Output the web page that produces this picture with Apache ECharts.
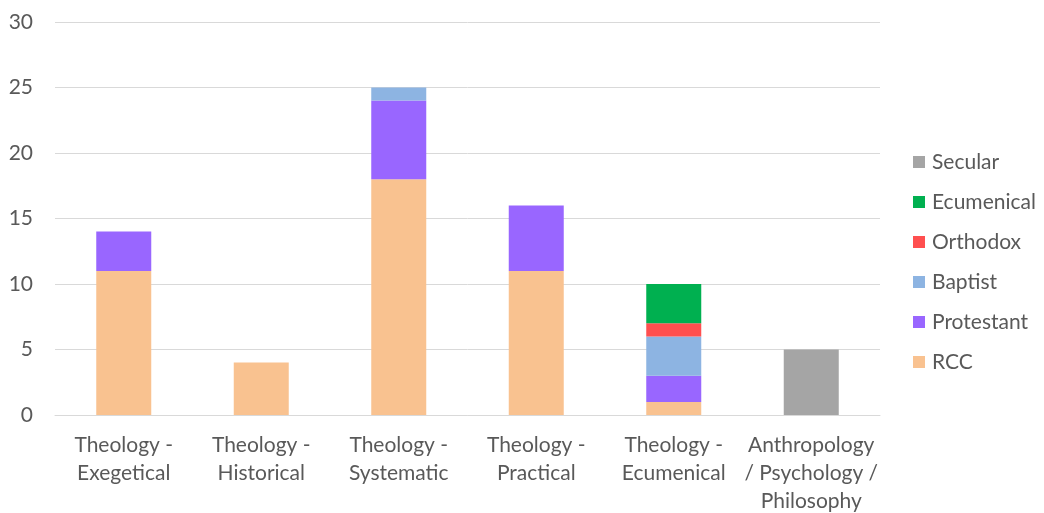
<!DOCTYPE html>
<html>
<head>
<meta charset="utf-8">
<script src="https://cdn.jsdelivr.net/npm/echarts@6/dist/echarts.min.js"></script>
<style>html,body{margin:0;padding:0;background:#fff}#c{width:1044px;height:513px}</style>
</head>
<body>
<div id="c"></div>
<script>
var categories = ["Theology -\nExegetical", "Theology -\nHistorical", "Theology -\nSystematic", "Theology -\nPractical", "Theology -\nEcumenical", "Anthropology\n/ Psychology /\nPhilosophy"];
var rcc = [11, 4, 18, 11, 1, 0];
var protestant = [3, 0, 6, 5, 2, 0];
var baptist = [0, 0, 1, 0, 3, 0];
var orthodox = [0, 0, 0, 0, 1, 0];
var ecumenical = [0, 0, 0, 0, 3, 0];
var secular = [0, 0, 0, 0, 0, 5];
var seriesNames = ["RCC", "Protestant", "Baptist", "Orthodox", "Ecumenical", "Secular"];
var seriesColors = ["#F9C290", "#9966FF", "#8DB4E2", "#FF4F4F", "#00B050", "#A5A5A5"];
var seriesData = [rcc, protestant, baptist, orthodox, ecumenical, secular];

var chart = echarts.init(document.getElementById('c'));
var font = "Lato, Carlito, 'Liberation Sans', sans-serif";
chart.setOption({
  animation: false,
  grid: {left: 55, right: 164, top: 22, bottom: 98, containLabel: false, outerBoundsMode: 'none'},
  legend: {
    orient: 'vertical', left: 913, top: 151, padding: 0,
    data: seriesNames.slice().reverse(),
    itemWidth: 12, itemHeight: 12, itemGap: 18,
    icon: 'rect',
    textStyle: {color: '#595959', fontSize: 21, fontFamily: font, lineHeight: 22, padding: [0,0,0,2]}
  },
  xAxis: {
    type: 'category', data: categories,
    axisLine: {lineStyle: {color: '#D9D9D9', width: 1}},
    axisTick: {show: false},
    axisLabel: {color: '#595959', fontSize: 21, fontFamily: font, lineHeight: 28, margin: 16, interval: 0}
  },
  yAxis: {
    type: 'value', min: 0, max: 30, interval: 5,
    axisLine: {show: false}, axisTick: {show: false},
    splitLine: {lineStyle: {color: '#D9D9D9', width: 1}},
    axisLabel: {color: '#595959', fontSize: 21, fontFamily: font, margin: 22}
  },
  series: seriesNames.map(function (n, i) {
    return {
      name: n, type: 'bar', stack: 'total', barWidth: 55,
      itemStyle: {color: seriesColors[i]},
      data: seriesData[i]
    };
  })
});
</script>
</body>
</html>
